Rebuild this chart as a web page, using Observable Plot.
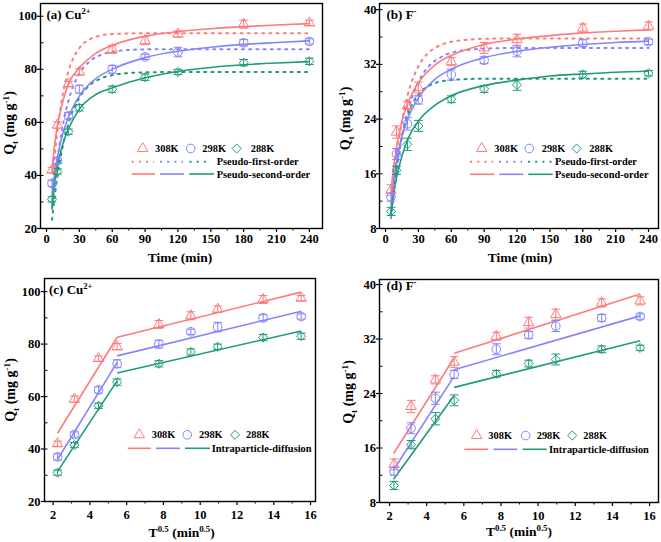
<!DOCTYPE html>
<html><head><meta charset="utf-8">
<script src="https://cdn.jsdelivr.net/npm/d3@7"></script>
<script src="https://cdn.jsdelivr.net/npm/@observablehq/plot@0.6"></script>
<style>
body{margin:0;background:#fff}
#wrap{position:relative;width:661px;height:542px;overflow:hidden;background:#fff}
</style></head><body><div id="wrap"></div>
<script>
// ---------- data ----------
const temps = ["308K", "298K", "288K"];
const colors = ["#ff7b7b", "#8484ff", "#1f9a7b"];
const symbols = ["triangle", "circle", "diamond2"];

const time = [5, 10, 20, 30, 60, 90, 120, 180, 240];
const sqrtTime = [2.24, 3.16, 4.47, 5.48, 7.75, 9.49, 10.95, 13.42, 15.49];

// Cu2+ uptake (mg/g)
const cu308 = [42, 59, 74.5, 79, 87.5, 90.8, 93.3, 97, 97.5];
const cu298 = [37, 45.5, 62.5, 72.5, 80, 84.7, 86.5, 90, 90.5];
const cu288 = [31, 41.5, 56.5, 65.5, 72.5, 77, 79, 82.5, 83];
const cuErr308 = [1.0, 1.2, 1.0, 1.2, 1.5, 1.5, 1.2, 1.5, 1.0];
const cuErr298 = [1.2, 1.0, 1.2, 1.5, 1.5, 1.0, 1.8, 1.2, 1.0];
const cuErr288 = [1.0, 1.0, 1.0, 1.2, 1.2, 1.2, 1.0, 1.2, 1.2];

// F- uptake (mg/g)
const f308 = [13.6, 22.1, 26.0, 28.6, 32.4, 34.4, 35.6, 37.3, 37.6];
const f298 = [12.6, 18.9, 23.3, 26.8, 30.5, 32.6, 33.9, 35.1, 35.3];
const f288 = [10.5, 16.5, 20.3, 23.0, 26.9, 28.4, 29.0, 30.5, 30.7];
const fErr308 = [0.8, 0.9, 0.6, 0.8, 0.6, 0.8, 0.8, 0.6, 0.6];
const fErr298 = [0.6, 0.8, 0.9, 0.6, 0.8, 0.5, 0.8, 0.5, 0.4];
const fErr288 = [0.6, 0.6, 0.9, 0.8, 0.5, 0.5, 0.8, 0.5, 0.4];

// fitted curves
const psoTime = [5, 7.5, 10, 15, 20, 30, 45, 60, 90, 120, 150, 180, 210, 240];
const pfoTime = [5, 7.5, 10, 15, 20, 30, 40, 50, 60, 75, 90, 120, 180, 240];

const cuPso308 = [42, 52, 59, 68, 74.5, 80.5, 86, 89, 92.5, 94.2, 95.3, 96.1, 96.7, 97.2];
const cuPso298 = [33, 41, 47, 56, 62, 70, 76.5, 80, 84.4, 86.8, 88.3, 89.4, 90.1, 90.7];
const cuPso288 = [28, 37, 43.5, 52, 57.5, 65, 70.5, 73, 76.8, 79.2, 80.7, 81.7, 82.4, 82.9];
const cuPfo308 = [35.1, 47.4, 57, 70.8, 79.3, 88, 91.4, 92.8, 93.3, 93.5, 93.6, 93.6, 93.6, 93.6];
const cuPfo298 = [27.4, 37.7, 46.2, 59.1, 68.1, 78.4, 83.2, 85.5, 86.6, 87.3, 87.5, 87.6, 87.6, 87.6];
const cuPfo288 = [23.3, 32.2, 39.8, 51.3, 59.5, 69.3, 74.2, 76.6, 77.8, 78.6, 78.85, 79, 79, 79];

const fPso308 = [13.4, 17.1, 19.9, 23.7, 26.2, 29.3, 31.9, 33.3, 34.9, 35.7, 36.2, 36.6, 36.85, 37.05];
const fPso298 = [11.6, 15.1, 17.7, 21.4, 23.9, 27.1, 29.8, 31.3, 33.0, 33.9, 34.5, 34.9, 35.2, 35.4];
const fPso288 = [10.0, 13.1, 15.4, 18.6, 20.9, 23.7, 26.0, 27.4, 28.9, 29.7, 30.3, 30.6, 30.85, 31.0];
const fPfo308 = [10.9, 15.0, 18.4, 23.7, 27.4, 31.7, 33.8, 34.8, 35.3, 35.6, 35.75, 35.8, 35.8, 35.8];
const fPfo298 = [9.5, 13.2, 16.4, 21.4, 24.9, 29.4, 31.8, 33.0, 33.7, 34.1, 34.3, 34.4, 34.4, 34.4];
const fPfo288 = [10.3, 14.1, 17.1, 21.5, 24.4, 27.6, 28.9, 29.5, 29.7, 29.85, 29.9, 29.9, 29.9, 29.9];

// intraparticle-diffusion segments: [x1, y1, x2, y2]
const cuIpd308 = [[2.24, 46, 5.48, 82.6], [5.48, 82.6, 15.49, 99.8]];
const cuIpd298 = [[2.24, 36, 5.48, 73], [5.48, 75.5, 15.49, 92.5]];
const cuIpd288 = [[2.24, 31.5, 5.48, 66], [5.48, 69, 15.49, 85]];
const fIpd308 = [[2.22, 15.2, 5.45, 29.1], [5.48, 29.9, 15.49, 38.6]];
const fIpd298 = [[2.22, 12.8, 5.45, 26.4], [5.48, 27.5, 15.49, 35.4]];
const fIpd288 = [[2.22, 11.4, 5.45, 23.6], [5.48, 24.9, 15.49, 31.75]];

const timeTicks = [0, 30, 60, 90, 120, 150, 180, 210, 240];
const timeMinor = [15, 45, 75, 105, 135, 165, 195, 225];
const rootTicks = [2, 4, 6, 8, 10, 12, 14, 16];
const rootMinor = [3, 5, 7, 9, 11, 13, 15];
const cuTicks = [20, 40, 60, 80, 100];
const cuMinor = [30, 50, 70, 90];
const fTicks = [8, 16, 24, 32, 40];
const fMinor = [12, 20, 28, 36];

// ---------- helpers ----------
const FONT = "'Liberation Serif', 'Times New Roman', serif";
const wrap = document.getElementById("wrap");
const capSymbol = {draw(ctx, size) { const r = Math.sqrt(size / Math.PI); ctx.moveTo(-r, 0); ctx.lineTo(r, 0); }};
const symR = {triangle: 3.9, circle: 4.3, diamond2: 4.1};

function pointMarks(xs, ys, errs, s) {
  const rows = xs.map((x, i) => ({x, y: ys[i], e: errs[i]}));
  const c = colors[s];
  return [
    Plot.ruleX(rows, {x: "x", y1: d => d.y - d.e, y2: d => d.y + d.e, stroke: c, strokeWidth: 1}),
    Plot.dot(rows, {x: "x", y: d => d.y - d.e, symbol: capSymbol, r: 4.4, stroke: c, strokeWidth: 1}),
    Plot.dot(rows, {x: "x", y: d => d.y + d.e, symbol: capSymbol, r: 4.4, stroke: c, strokeWidth: 1}),
    Plot.dot(rows, {x: "x", y: "y", symbol: symbols[s], r: symR[symbols[s]], stroke: c, fill: "none", strokeWidth: 1})
  ];
}
function curve(ts, qs, s, dotted) {
  const rows = ts.map((t, i) => ({t, q: qs[i]}));
  return Plot.line(rows, {x: "t", y: "q", stroke: colors[s], curve: "monotone-x",
    strokeWidth: dotted ? 2 : 1.6, strokeDasharray: dotted ? "2,5.2" : null, clip: true});
}
function segs(list, s) {
  return Plot.link(list, {x1: d => d[0], y1: d => d[1], x2: d => d[2], y2: d => d[3], stroke: colors[s], strokeWidth: 1.6});
}

function text(svg, x, y, parts, size, opts = {}) {
  const t = d3.select(svg).append("text").attr("font-family", FONT).attr("font-weight", "bold")
    .attr("font-size", size).attr("fill", "#000");
  if (opts.rotate) t.attr("transform", `translate(${x},${y}) rotate(-90)`).attr("text-anchor", "middle");
  else t.attr("x", x).attr("y", y).attr("text-anchor", opts.anchor || "start");
  let shift = 0;
  for (const [s, k] of parts) {
    const sp = t.append("tspan").text(s);
    const target = k === "sup" ? -0.36 * size : k === "sub" ? 0.28 * size : 0;
    if (target - shift !== 0) sp.attr("dy", target - shift);
    shift = target;
    if (k) sp.attr("font-size", size * 0.66);
  }
}

function legend(svg, cfg) {
  const g = d3.select(svg).append("g");
  const types = {triangle: d3.symbolTriangle, circle: d3.symbolCircle, diamond2: d3.symbolDiamond2};
  cfg.markers.forEach((m, i) => {
    const sym = symbols[i];
    const size = Math.PI * symR[sym] * symR[sym];
    g.append("path").attr("d", d3.symbol(types[sym], size)()).attr("transform", `translate(${m[0]},${cfg.y0})`)
      .attr("fill", "none").attr("stroke", colors[i]).attr("stroke-width", 1);
    text(svg, m[1], cfg.y0 + 3.6, [[temps[i]]], 10.4);
  });
  cfg.rows.forEach(r => {
    r.segs.forEach((sg, i) => {
      g.append("line").attr("x1", sg[0]).attr("x2", sg[1]).attr("y1", r.y).attr("y2", r.y)
        .attr("stroke", colors[i]).attr("stroke-width", r.dotted ? 2 : 1.6)
        .attr("stroke-dasharray", r.dotted ? "2,5.2" : null);
    });
    text(svg, r.tx, r.y + 3.6, [[r.label]], 10.4);
  });
}

function panel(cfg) {
  const innerW = cfg.width - cfg.m[0] - cfg.m[1];
  const svg = Plot.plot({
    width: cfg.width, height: cfg.height,
    marginLeft: cfg.m[0], marginRight: cfg.m[1], marginTop: cfg.m[2], marginBottom: cfg.m[3],
    x: {domain: cfg.xDomain}, y: {domain: cfg.yDomain},
    style: {fontFamily: FONT, fontWeight: "bold", fontSize: "12.5px", color: "#000", background: "transparent", overflow: "visible"},
    marks: [
      ...cfg.marks,
      Plot.axisX({ticks: cfg.xTicks, tickSize: 4, tickPadding: cfg.xPad, label: null, stroke: "#000", strokeWidth: 1.2}),
      Plot.axisX({ticks: cfg.xMinor, tickSize: 2.5, tickFormat: () => "", label: null, stroke: "#000", strokeWidth: 1}),
      Plot.axisY({ticks: cfg.yTicks, tickSize: 3, tickPadding: cfg.yPad, label: null, stroke: "#000", strokeWidth: 1.2}),
      Plot.tickY([...cfg.yTicks, ...cfg.yMinor], {y: d => d, insetRight: innerW - 3.5, stroke: "#000", strokeWidth: 1}),
      Plot.frame({stroke: "#000", strokeWidth: 1.4})
    ]
  });
  svg.style.position = "absolute";
  svg.style.left = cfg.left + "px";
  svg.style.top = cfg.top + "px";
  wrap.appendChild(svg);
  return svg;
}

const qLabel = [["Q"], ["t", "sub"], [" (mg g"], ["-1", "sup"], [")"]];
const rootLabel = [["T"], ["0.5", "sup"], [" (min"], ["0.5", "sup"], [")"]];

// ---------- (a) ----------
const sa = panel({
  left: 0, top: 0, width: 330, height: 271, m: [40, 8, 3, 43],
  xDomain: [-5.5, 252], yDomain: [20, 104.8], xTicks: timeTicks, xMinor: timeMinor,
  yTicks: cuTicks, yMinor: cuMinor, xPad: 1.5, yPad: 0.5,
  marks: [
    curve(pfoTime, cuPfo308, 0, true), curve(pfoTime, cuPfo298, 1, true), curve(pfoTime, cuPfo288, 2, true),
    curve(psoTime, cuPso308, 0), curve(psoTime, cuPso298, 1), curve(psoTime, cuPso288, 2),
    ...pointMarks(time, cu308, cuErr308, 0), ...pointMarks(time, cu298, cuErr298, 1), ...pointMarks(time, cu288, cuErr288, 2)
  ]
});
text(sa, 46.5, 18.5, [["(a) Cu"], ["2+", "sup"]], 13);
text(sa, 180, 261.5, [["Time (min)"]], 13.5, {anchor: "middle"});
text(sa, 14, 123, qLabel, 14, {rotate: true});
legend(sa, {y0: 148.5, markers: [[142.7, 155], [190.7, 202.3], [236.7, 250.7]],
  rows: [{y: 161.7, dotted: true, segs: [[131.7, 154], [160, 183], [189.5, 211]], tx: 216.7, label: "Pseudo-first-order"},
         {y: 174, segs: [[131.7, 155], [160, 184], [189.3, 214]], tx: 216.7, label: "Pseudo-second-order"}]});

// ---------- (b) ----------
const sb = panel({
  left: 330, top: 0, width: 331, height: 271, m: [49, 3, 3, 43],
  xDomain: [-5.5, 249.1], yDomain: [8, 40.9], xTicks: timeTicks, xMinor: timeMinor,
  yTicks: fTicks, yMinor: fMinor, xPad: 1.5, yPad: 0,
  marks: [
    curve(pfoTime, fPfo308, 0, true), curve(pfoTime, fPfo298, 1, true), curve(pfoTime, fPfo288, 2, true),
    curve(psoTime, fPso308, 0), curve(psoTime, fPso298, 1), curve(psoTime, fPso288, 2),
    ...pointMarks(time, f308, fErr308, 0), ...pointMarks(time, f298, fErr298, 1), ...pointMarks(time, f288, fErr288, 2)
  ]
});
text(sb, 56.5, 18.5, [["(b) F"], ["-", "sup"]], 13);
text(sb, 190, 261.5, [["Time (min)"]], 13.5, {anchor: "middle"});
text(sb, 20, 118.5, qLabel, 14, {rotate: true});
legend(sb, {y0: 148.5, markers: [[151.7, 164.3], [199.3, 211.7], [246.7, 259.3]],
  rows: [{y: 161.7, dotted: true, segs: [[140, 163], [169, 192], [198, 222]], tx: 225, label: "Pseudo-first-order"},
         {y: 174.3, segs: [[140, 164.3], [169.3, 193.3], [198.3, 222.7]], tx: 225, label: "Pseudo-second-order"}]});

// ---------- (c) ----------
const sc = panel({
  left: 0, top: 271, width: 330, height: 271, m: [44, 15, 7, 41],
  xDomain: [1.53, 16.27], yDomain: [20, 105], xTicks: rootTicks, xMinor: rootMinor,
  yTicks: cuTicks, yMinor: cuMinor, xPad: 4.5, yPad: 1,
  marks: [
    segs(cuIpd308, 0), segs(cuIpd298, 1), segs(cuIpd288, 2),
    ...pointMarks(sqrtTime, cu308, cuErr308, 0), ...pointMarks(sqrtTime, cu298, cuErr298, 1), ...pointMarks(sqrtTime, cu288, cuErr288, 2)
  ]
});
text(sc, 49, 23, [["(c) Cu"], ["2+", "sup"]], 13);
text(sc, 181.7, 265.5, rootLabel, 13.5, {anchor: "middle"});
text(sc, 15, 119, qLabel, 14, {rotate: true});
legend(sc, {y0: 163.8, markers: [[139.3, 151.7], [187.3, 199], [235, 246]],
  rows: [{y: 177.3, segs: [[127.7, 150.7], [156, 180], [185, 210]], tx: 211.7, label: "Intraparticle-diffusion"}]});

// ---------- (d) ----------
const sd = panel({
  left: 330, top: 271, width: 331, height: 271, m: [49, 3, 8, 40],
  xDomain: [1.46, 16.48], yDomain: [8, 40.74], xTicks: rootTicks, xMinor: rootMinor,
  yTicks: fTicks, yMinor: fMinor, xPad: 4.5, yPad: 0.5,
  marks: [
    segs(fIpd308, 0), segs(fIpd298, 1), segs(fIpd288, 2),
    ...pointMarks(sqrtTime, f308, fErr308, 0), ...pointMarks(sqrtTime, f298, fErr298, 1), ...pointMarks(sqrtTime, f288, fErr288, 2)
  ]
});
text(sd, 56.5, 18.5, [["(d) F"], ["-", "sup"]], 13);
text(sd, 189, 265, rootLabel, 13.5, {anchor: "middle"});
text(sd, 23, 121, qLabel, 14, {rotate: true});
legend(sd, {y0: 164.5, markers: [[146.7, 158.3], [195.7, 206.7], [242.3, 253.3]],
  rows: [{y: 178.3, segs: [[134.3, 158.3], [163.3, 187.3], [192.7, 216.7]], tx: 219, label: "Intraparticle-diffusion"}]});
</script></body></html>
